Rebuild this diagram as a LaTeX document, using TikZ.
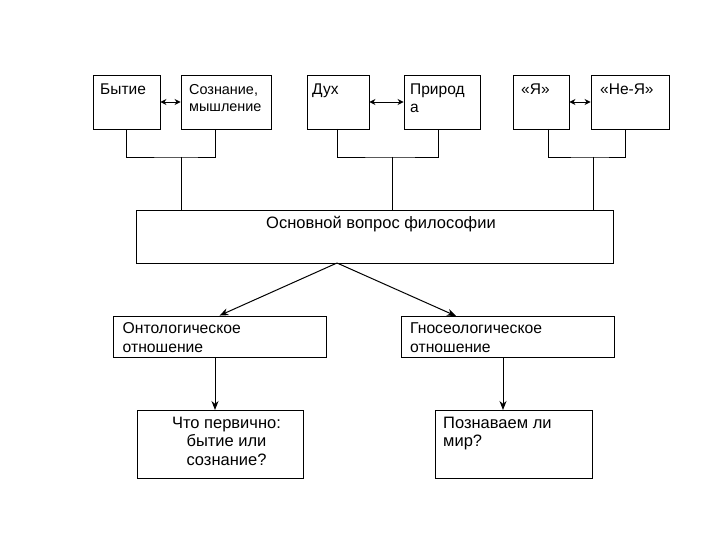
\documentclass[tikz,border=0pt]{standalone}
\usepackage{fontspec}
\setmainfont{Liberation Sans}
\usetikzlibrary{arrows.meta,calc}
\begin{document}
\begin{tikzpicture}[x=1pt,y=-1pt,
 box/.style={draw, line width=0.9pt, inner sep=0pt},
 lbl/.style={inner sep=0pt, anchor=north west, align=left},
 fs/.style n args={2}{font=\fontsize{#1}{#2}\selectfont},
 con/.style={line width=0.9pt},
 arr/.style={line width=1pt, -{Stealth[length=9pt,width=7pt]}},
 dbl/.style={line width=0.9pt, {Stealth[length=6pt,width=6pt]}-{Stealth[length=6pt,width=6pt]}}]
\useasboundingbox (0,0) rectangle (720,540);
% top row
\node[box, minimum width=67pt, minimum height=54pt] (byt) at (126.5,102) {};
\node[box, minimum width=90pt, minimum height=54pt] (soz) at (226,102) {};
\node[box, minimum width=62pt, minimum height=54pt] (duh) at (338,102) {};
\node[box, minimum width=76pt, minimum height=54pt] (pri) at (442,102) {};
\node[box, minimum width=56pt, minimum height=54pt] (ya) at (541,102) {};
\node[box, minimum width=78pt, minimum height=54pt] (neya) at (630,102) {};
\node[lbl, fs={15.5}{17}] (tbyt) at (100,84) {Бытие};
\node[lbl, fs={14.4}{17}] (tsoz) at (189,84) {Сознание,\\мышление};
\node[lbl, fs={15.5}{17}] (tduh) at (312,84) {Дух};
\node[lbl, fs={15.5}{18}] (tpri) at (410,84) {Природ\\а};
\node[lbl, fs={15.5}{17}] (tya) at (521,84) {«Я»};
\node[lbl, fs={15.5}{17}] (tneya) at (600,84) {«Не-Я»};
% main
\node[box, minimum width=477pt, minimum height=53pt] (main) at (374.5,236.5) {};
\node[inner sep=0pt, anchor=north, fs={16.5}{18}] (tmain) at (381,216) {Основной вопрос философии};
% second row
\node[box, minimum width=213pt, minimum height=41pt] (ont) at (219.5,336.5) {};
\node[box, minimum width=213pt, minimum height=41pt] (gno) at (507.5,336.5) {};
\node[lbl, fs={15.7}{19}] (tont) at (122.5,322) {Онтологическое\\отношение};
\node[lbl, fs={15.7}{19}] (tgno) at (410,322) {Гносеологическое\\отношение};
% third row
\node[box, minimum width=166pt, minimum height=68pt] (chto) at (220,444) {};
\node[box, minimum width=157pt, minimum height=68pt] (poz) at (513.5,444) {};
\node[inner sep=0pt, anchor=north, align=center, fs={16.5}{18.5}] (tchto) at (226.5,416.5) {Что первично:\\бытие или\\сознание?};
\node[lbl, fs={16.5}{18.5}] (tpoz) at (443,416.5) {Познаваем ли\\мир?};
% brackets
\coordinate (s1) at (215,129);
\coordinate (j1) at (181,157);
\coordinate (s2) at (337,129);
\coordinate (s3) at (438,129);
\coordinate (j2) at (392,157);
\coordinate (s4) at (548,129);
\coordinate (s5) at (625,129);
\coordinate (j3) at (593,157);
\draw[con] (byt.south) |- (j1) -| (s1);
\draw[con] (j1) -- (j1 |- main.north);
\draw[con] (s2) |- (j2) -| (s3);
\draw[con] (j2) -- (j2 |- main.north);
\draw[con] (s4) |- (j3) -| (s5);
\draw[con] (j3) -- (j3 |- main.north);
% double arrows
\draw[dbl] (byt.east) -- (soz.west);
\draw[dbl] (duh.east) -- (pri.west);
\draw[dbl] (ya.east) -- (neya.west);
% arrows down
\coordinate (apex) at (337,263);
\coordinate (gtop) at (456,316);
\draw[arr] (apex) -- (ont.north);
\draw[arr] (apex) -- (gtop);
\coordinate (o1) at (215,357);
\coordinate (o2) at (215,410);
\coordinate (g1) at (503,357);
\coordinate (g2) at (503,410);
\draw[arr] (o1) -- (o2);
\draw[arr] (g1) -- (g2);
\end{tikzpicture}
\end{document}
